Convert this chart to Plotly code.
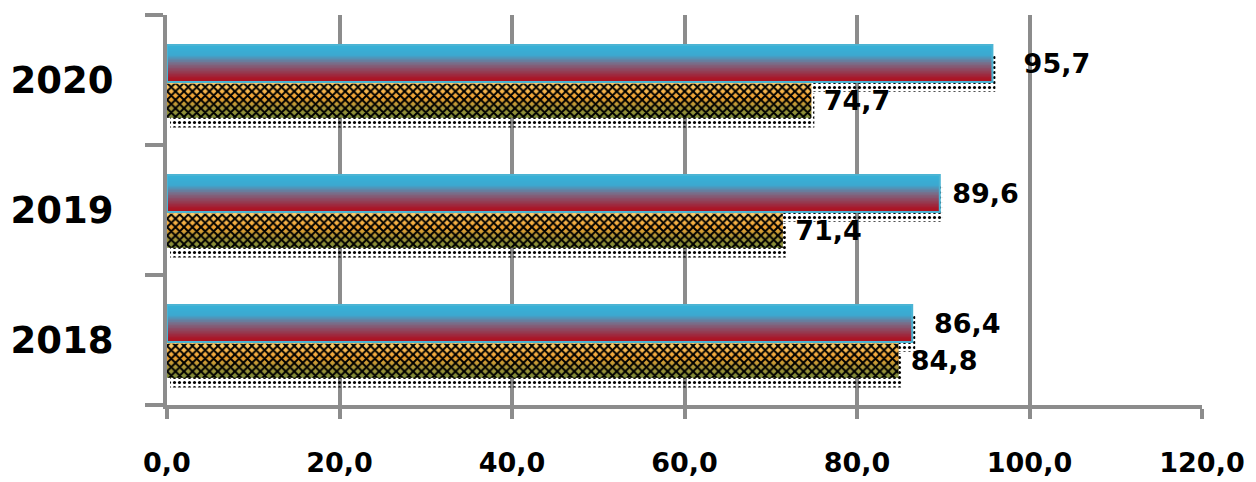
import plotly.graph_objects as go

years = ["2018", "2019", "2020"]
series_top = [86.4, 89.6, 95.7]
series_bottom = [84.8, 71.4, 74.7]
x_ticks = [0, 20, 40, 60, 80, 100, 120]

# style settings
top_off, top_w = -0.015, 0.285
bot_off, bot_w = -0.29, 0.262
pad_top = [2, 1, 3]      # leading spaces before each top label
pad_bot = [1, 1, 1]
GRID = "#8C8C8C"
FONT = "DejaVu Sans"


def hx(c):
    return tuple(int(c[i:i + 2], 16) for i in (1, 3, 5))


def grad(stops, t):
    for (p0, c0), (p1, c1) in zip(stops, stops[1:]):
        if p0 <= t <= p1:
            f = (t - p0) / (p1 - p0) if p1 > p0 else 0
            a, b = hx(c0), hx(c1)
            return "rgb(%d,%d,%d)" % tuple(round(a[k] + (b[k] - a[k]) * f) for k in range(3))
    return stops[-1][1]


# t=0 bottom, t=1 top
top_stops = [(0, "#B0101A"), (0.1, "#A8182A"), (0.5, "#7A6C88"), (0.72, "#3CA8D0"), (1, "#36B2D8")]
bot_stops = [(0, "#7C8C38"), (0.3, "#A8963A"), (0.6, "#F0A030"), (1, "#FFD070")]

fig = go.Figure()
N = 24


def add_shadow(vals, off, w):
    fig.add_trace(go.Bar(
        x=vals, y=years, orientation="h", base=0.35, offset=off - 0.075, width=w,
        marker=dict(color="rgba(0,0,0,0)", line=dict(width=0),
                    pattern=dict(shape=".", fgcolor="black", bgcolor="rgba(0,0,0,0)",
                                 size=5, solidity=0.3, fillmode="replace")),
        hoverinfo="skip", showlegend=False))


add_shadow(series_top, top_off, top_w)
add_shadow(series_bottom, bot_off, bot_w)


def add_gradient(vals, off, w, stops):
    for i in range(N):
        t = (i + 0.5) / N
        fig.add_trace(go.Bar(
            x=vals, y=years, orientation="h", offset=off + i * w / N, width=w / N + 0.006,
            marker=dict(color=grad(stops, t), line=dict(width=0)),
            hoverinfo="skip", showlegend=False))


def fmt(v):
    return f"{v:.1f}".replace(".", ",")


add_gradient(series_bottom, bot_off, bot_w, bot_stops)
fig.add_trace(go.Bar(
    x=series_bottom, y=years, orientation="h", offset=bot_off, width=bot_w,
    marker=dict(color="rgba(0,0,0,0)", line=dict(width=0),
                pattern=dict(shape="x", fgcolor="black", bgcolor="rgba(0,0,0,0)",
                             size=6, solidity=0.55, fillmode="replace")),
    text=[" " * p + fmt(v) for p, v in zip(pad_bot, series_bottom)],
    textposition="outside", constraintext="none", cliponaxis=False,
    textfont=dict(family=FONT, size=27, color="black", weight="bold"),
    hoverinfo="skip", showlegend=False))

add_gradient(series_top, top_off, top_w, top_stops)
fig.add_trace(go.Bar(
    x=series_top, y=years, orientation="h", offset=top_off, width=top_w,
    marker=dict(color="rgba(0,0,0,0)", line=dict(color="#4BB4D4", width=2)),
    text=[" " * p + fmt(v) for p, v in zip(pad_top, series_top)],
    textposition="outside", constraintext="none", cliponaxis=False,
    textfont=dict(family=FONT, size=27, color="black", weight="bold"),
    hoverinfo="skip", showlegend=False))

fig.update_layout(
    width=1248, height=474,
    margin=dict(l=159, r=54, t=7, b=77),
    paper_bgcolor="white", plot_bgcolor="white",
    barmode="overlay", showlegend=False,
    separators=", ",
    xaxis=dict(range=[0, 120], tickvals=x_ticks, tickformat=".1f", automargin=False,
               showgrid=True, gridcolor=GRID, gridwidth=4, zeroline=False,
               showline=True, linecolor=GRID, linewidth=4,
               ticks="outside", ticklen=10, tickwidth=4, tickcolor=GRID,
               ticklabelstandoff=21,
               tickfont=dict(family=FONT, size=27, color="black", weight="bold")),
    yaxis=dict(type="category", categoryarray=years, range=[-0.5, 2.5], automargin=False,
               showgrid=False, zeroline=False,
               showline=True, linecolor=GRID, linewidth=4,
               ticks="outside", tickson="boundaries", ticklen=18, tickwidth=4, tickcolor=GRID,
               ticklabelstandoff=42,
               tickfont=dict(family=FONT, size=37, color="black", weight="bold")),
)

fig.write_html("out.html")
